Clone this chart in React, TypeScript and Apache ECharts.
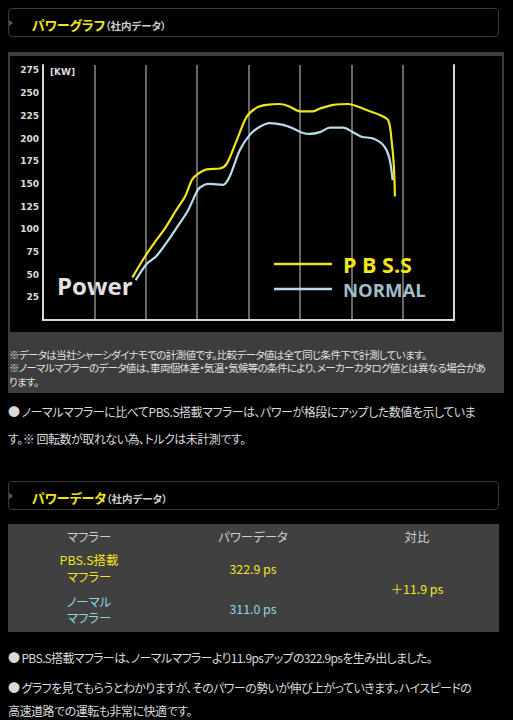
import { useEffect, useRef } from "react";
import * as echarts from "echarts";

const yTicks = [25, 50, 75, 100, 125, 150, 175, 200, 225, 250, 275];

const pbssRpm = [1740, 1985, 2180, 2375, 2570, 2765, 2895, 2990, 3185, 3445, 3575, 3770, 3965, 4160, 4350, 4610, 4805, 5000, 5260, 5390, 5650, 5940, 6135, 6360, 6555, 6720, 6785, 6830, 6850];
const pbssKw = [47, 70, 86, 101, 119, 136, 154, 160, 166, 167, 172, 198, 224, 234, 237, 238, 235, 230, 230, 233, 237, 238, 235, 230, 226, 220, 198, 169, 136];

const normalRpm = [1805, 2020, 2180, 2245, 2440, 2630, 2825, 2990, 3055, 3215, 3510, 3640, 3830, 4025, 4220, 4415, 4675, 4870, 5065, 5195, 5390, 5585, 5840, 6035, 6200, 6425, 6620, 6735, 6805];
const normalKw = [44, 62, 69, 73, 88, 104, 121, 141, 146, 150, 149, 159, 187, 204, 213, 217, 215, 211, 206, 205, 207, 212, 212, 207, 202, 200, 193, 180, 154];

const seriesNames = ["P B S.S", "NORMAL"];

const noteLines = [
  "※データは当社シャーシダイナモでの計測値です。比較データ値は全て同じ条件下で計測しています。",
  "※ノーマルマフラーのデータ値は、車両個体差・気温・気候等の条件により、メーカーカタログ値とは異なる場合があ",
  "ります。"
];
const introLines = [
  "● ノーマルマフラーに比べてPBS.S搭載マフラーは、パワーが格段にアップした数値を示していま",
  "す。※ 回転数が取れない為、トルクは未計測です。"
];
const outroLines = [
  "● PBS.S搭載マフラーは、ノーマルマフラーより11.9psアップの322.9psを生み出しました。",
  "● グラフを見てもらうとわかりますが、そのパワーの勢いが伸び上がっていきます。ハイスピードの",
  "高速道路での運転も非常に快適です。"
];
const tableHeaders = ["マフラー", "パワーデータ", "対比"];
const mufflerNames = [["PBS.S搭載", "マフラー"], ["ノーマル", "マフラー"]];
const powerValues = ["322.9 ps", "311.0 ps"];
const powerDiff = "＋11.9 ps";

const YELLOW = "#f2e51c";
const CYAN = "#8fd6e2";
const JP = "'Noto Sans CJK JP', 'Noto Sans', sans-serif";

function PowerChart() {
  const ref = useRef<HTMLDivElement | null>(null);

  useEffect(() => {
    if (!ref.current) return;
    const chart = echarts.init(ref.current, null, { renderer: "svg" });
    const axisLine = { show: true, onZero: false, lineStyle: { color: "#d8d8d8", width: 2 } };
    chart.setOption({
      animation: false,
      backgroundColor: "#000",
      grid: { left: 33, right: 48, top: 9, bottom: 12 },
      xAxis: {
        type: "value",
        min: 0,
        max: 8000,
        interval: 1000,
        axisLine,
        axisTick: { show: false },
        axisLabel: { show: false },
        splitLine: { show: true, lineStyle: { color: "#8a8a8a", width: 1.5 } }
      },
      yAxis: [
        {
          type: "value",
          min: 0,
          max: 281,
          interval: 25,
          axisLine,
          axisTick: { show: false },
          splitLine: { show: false },
          axisLabel: {
            color: "#dcdcdc",
            fontSize: 9,
            fontWeight: "bold",
            fontFamily: "DejaVu Sans",
            margin: 4,
            formatter: (v: number) => (yTicks.includes(v) ? String(v) : "")
          }
        },
        {
          type: "value",
          position: "right",
          min: 0,
          max: 281,
          interval: 25,
          axisLine,
          axisTick: { show: false },
          axisLabel: { show: false },
          splitLine: { show: false }
        }
      ],
      legend: {
        orient: "vertical",
        left: 264,
        top: 197,
        padding: 0,
        icon: "rect",
        itemWidth: 58,
        itemHeight: 2.5,
        itemGap: 4,
        selectedMode: false,
        textStyle: { padding: [0, 0, 0, 6], lineHeight: 20 },
        data: [
          { name: seriesNames[0], textStyle: { color: YELLOW, fontSize: 21.5, fontWeight: "bold", fontFamily: "Open Sans" } },
          { name: seriesNames[1], textStyle: { color: "#a2bec8", fontSize: 18.5, fontWeight: "bold", fontFamily: "Open Sans" } }
        ]
      },
      graphic: [
        {
          type: "text",
          left: 40,
          top: 11,
          style: { text: "[KW]", fill: "#dcdcdc", font: "bold 9px 'DejaVu Sans'" }
        },
        {
          type: "text",
          left: 47,
          top: 217,
          style: { text: "Power", fill: "#e2e2e2", font: "bold 24px 'Open Sans'" }
        }
      ],
      series: [
        {
          name: seriesNames[0],
          type: "line",
          data: pbssRpm.map((r, i) => [r, pbssKw[i]]),
          showSymbol: false,
          smooth: 0.3,
          z: 4,
          itemStyle: { color: YELLOW },
          lineStyle: { color: YELLOW, width: 2.2 }
        },
        {
          name: seriesNames[1],
          type: "line",
          data: normalRpm.map((r, i) => [r, normalKw[i]]),
          showSymbol: false,
          smooth: 0.3,
          z: 3,
          itemStyle: { color: "#b8dde8" },
          lineStyle: { color: "#b8dde8", width: 2.2 }
        }
      ]
    });
    return () => chart.dispose();
  }, []);

  return <div ref={ref} style={{ position: "absolute", left: 10, top: 56, width: 492, height: 276 }} />;
}

type LineProps = { text: string; x: number; cy: number; size: number; color: string; spacing?: number; align?: "center" };

function Line({ text, x, cy, size, color, spacing, align }: LineProps) {
  const h = Math.round(size * 1.1);
  const style: React.CSSProperties = {
    position: "absolute",
    top: cy - h / 2,
    height: h,
    lineHeight: h + "px",
    fontSize: size,
    color,
    letterSpacing: spacing ?? 0,
    whiteSpace: "nowrap",
    fontFeatureSettings: '"palt"'
  };
  if (align === "center") {
    style.left = x - 100;
    style.width = 200;
    style.textAlign = "center";
  } else {
    style.left = x;
  }
  return <div style={style}>{text}</div>;
}

function Header({ top, title }: { top: number; title: string }) {
  return (
    <div style={{ position: "absolute", left: 8, top, width: 491, height: 29, border: "1px solid #3a3a3a", borderRadius: 4, boxSizing: "border-box" }}>
      <div style={{ position: "absolute", left: 0, top: 11, width: 0, height: 0, borderTop: "3px solid transparent", borderBottom: "3px solid transparent", borderLeft: "4px solid #5a5a5a" }} />
      <div style={{ position: "absolute", left: 23, top: 4, lineHeight: "20px", whiteSpace: "nowrap", fontFeatureSettings: '"palt"' }}>
        <span style={{ color: YELLOW, fontWeight: "bold", fontSize: 13 }}>{title}</span>
        <span style={{ color: "#cfcfcf", fontWeight: "bold", fontSize: 10.5 }}>（社内データ）</span>
      </div>
    </div>
  );
}

export default function App() {
  return (
    <div style={{ position: "fixed", left: 0, top: 0, width: 513, height: 720, background: "#000", overflow: "hidden", fontFamily: JP }}>
      <Header top={8} title="パワーグラフ" />
      <div style={{ position: "absolute", left: 8, top: 52, width: 496, height: 341, background: "#3d3d3d" }} />
      <PowerChart />
      {noteLines.map((t, i) => (
        <Line key={t} text={t} x={9} cy={355 + i * 13.4} size={10.5} spacing={-0.66} color="#e0e0e0" />
      ))}
      {introLines.map((t, i) => (
        <Line key={t} text={t} x={8} cy={411.5 + i * 26.5} size={12} spacing={-0.48} color="#dadada" />
      ))}
      <Header top={481} title="パワーデータ" />
      <div style={{ position: "absolute", left: 8, top: 524, width: 491, height: 108, background: "#404040" }} />
      {tableHeaders.map((t, i) => (
        <Line key={t} text={t} x={[89, 253, 417][i]} cy={537} size={12.4} color="#cfcfcf" align="center" />
      ))}
      {mufflerNames[0].map((t, i) => (
        <Line key={"a" + i} text={t} x={89} cy={560 + i * 17} size={12.4} color={YELLOW} align="center" />
      ))}
      {mufflerNames[1].map((t, i) => (
        <Line key={"b" + i} text={t} x={89} cy={602 + i * 15.5} size={12.4} color={CYAN} align="center" />
      ))}
      <Line text={powerValues[0]} x={253} cy={569} size={12.4} color={YELLOW} align="center" />
      <Line text={powerValues[1]} x={253} cy={609} size={12.4} color={CYAN} align="center" />
      <Line text={powerDiff} x={417} cy={589} size={12.4} color={YELLOW} align="center" />
      {outroLines.map((t, i) => (
        <Line key={t} text={t} x={8} cy={[657, 687, 710][i]} size={12} spacing={[-0.65, -0.58, -0.5][i]} color="#dadada" />
      ))}
    </div>
  );
}
